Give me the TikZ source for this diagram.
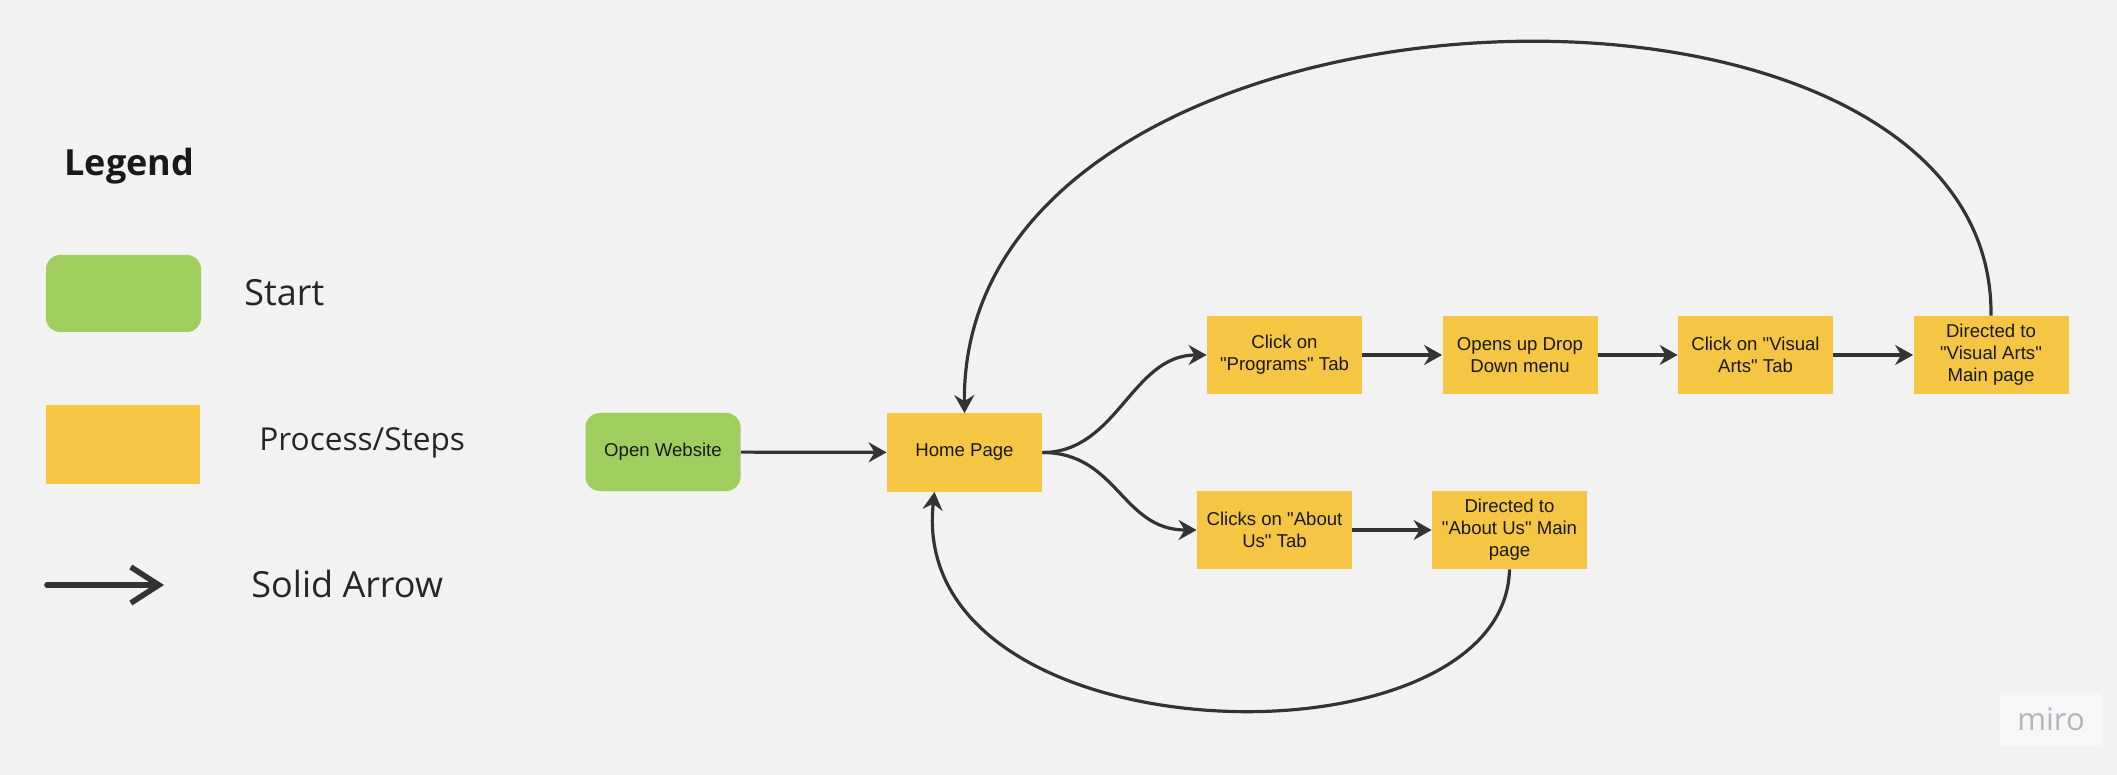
\documentclass[tikz,border=0pt]{standalone}
\usepackage{fontspec}
\setmainfont{Liberation Sans}[Ligatures=TeXOff]
\newfontfamily\osans{Open Sans}
\usetikzlibrary{arrows.meta}
\newcommand{\dq}{\symbol{34}}
\definecolor{bg}{HTML}{F2F2F2}
\definecolor{startgreen}{HTML}{9FCE5E}
\definecolor{stepyellow}{HTML}{F5C644}
\definecolor{arrowgray}{HTML}{333333}
\definecolor{mirogray}{HTML}{B3B5BD}
\tikzset{
  startbox/.style={fill=startgreen, rounded corners=7pt, minimum width=77.5pt, minimum height=39pt, inner sep=0pt, align=center, font=\fontsize{9.3}{11}\selectfont, text=black!90},
  stepbox/.style={fill=stepyellow, minimum width=77.5pt, minimum height=39pt, inner sep=0pt, align=center, font=\fontsize{9.3}{11}\selectfont, text=black!90},
  arr/.style={draw=arrowgray, line width=1.6pt, -{Stealth[length=9pt, width=10pt, inset=3pt]}},
  legtext/.style={anchor=west, inner sep=0pt, font=\osans\fontsize{18}{22}\selectfont, text=black!85},
}
\begin{document}
\begin{tikzpicture}[x=0.5pt,y=-0.5pt]
\useasboundingbox[fill=bg] (0,0) rectangle (2117,775);
% legend
\node[anchor=west, inner sep=0pt, font=\osans\bfseries\fontsize{18}{22}\selectfont, text=black!90] (legend) at (64,166) {Legend};
\node[fill=startgreen, rounded corners=7pt, minimum width=77.5pt, minimum height=38.5pt, inner sep=0pt] (lstart) at (123.5,293.5) {};
\node[legtext] (tstart) at (244,293) {Start};
\node[fill=stepyellow, minimum width=77pt, minimum height=39.5pt, inner sep=0pt] (lstep) at (123,444.5) {};
\node[legtext, font=\osans\fontsize{15.8}{19}\selectfont] (tstep) at (259,443) {Process/Steps};
\coordinate (la1) at (47,585);
\coordinate (la2) at (164,585);
\draw[draw=arrowgray, line width=2.8pt, line cap=round, -{Straight Barb[length=14pt, width=18pt, line width=2.8pt]}] (la1) -- (la2);
\node[legtext] (tarrow) at (251,584) {Solid Arrow};
% flow nodes
\node[startbox] (open) at (663,452) {Open Website};
\node[stepbox] (home) at (964.5,452.5) {Home Page};
\node[stepbox] (prog) at (1284.5,355) {Click on\\\dq Programs\dq\ Tab};
\node[stepbox] (drop) at (1520,355) {Opens up Drop\\Down menu};
\node[stepbox] (vat) at (1755.5,355) {Click on \dq Visual\\Arts\dq\ Tab};
\node[stepbox] (dva) at (1991,355) {Directed to\\\dq Visual Arts\dq\\Main page};
\node[stepbox] (aut) at (1274.5,530) {Clicks on \dq About\\Us\dq\ Tab};
\node[stepbox] (dau) at (1509.5,530) {Directed to\\\dq About Us\dq\ Main\\page};
% connectors
\draw[arr] (open) -- (home);
\draw[arr] (home.east) .. controls +(75,0) and +(-75,0) .. (prog.west);
\draw[arr] (home.east) .. controls +(75,0) and +(-75,0) .. (aut.west);
\draw[arr] (prog) -- (drop);
\draw[arr] (drop) -- (vat);
\draw[arr] (vat) -- (dva);
\draw[arr] (aut) -- (dau);
\draw[arr] (dva.north) .. controls (1995,-80) and (960,-45) .. (home.north);
\draw[arr] (dau.south) .. controls (1505,775) and (905,762) .. ([xshift=-15pt]home.south);
% watermark
\node[fill=white!35!bg, minimum width=51pt, minimum height=26.5pt, inner sep=0pt] (wm) at (2051,719.5) {};
\node[font=\osans\fontsize{15.5}{18}\selectfont, text=mirogray, inner sep=0pt] (miro) at (2051,719) {miro};
\end{tikzpicture}
\end{document}
